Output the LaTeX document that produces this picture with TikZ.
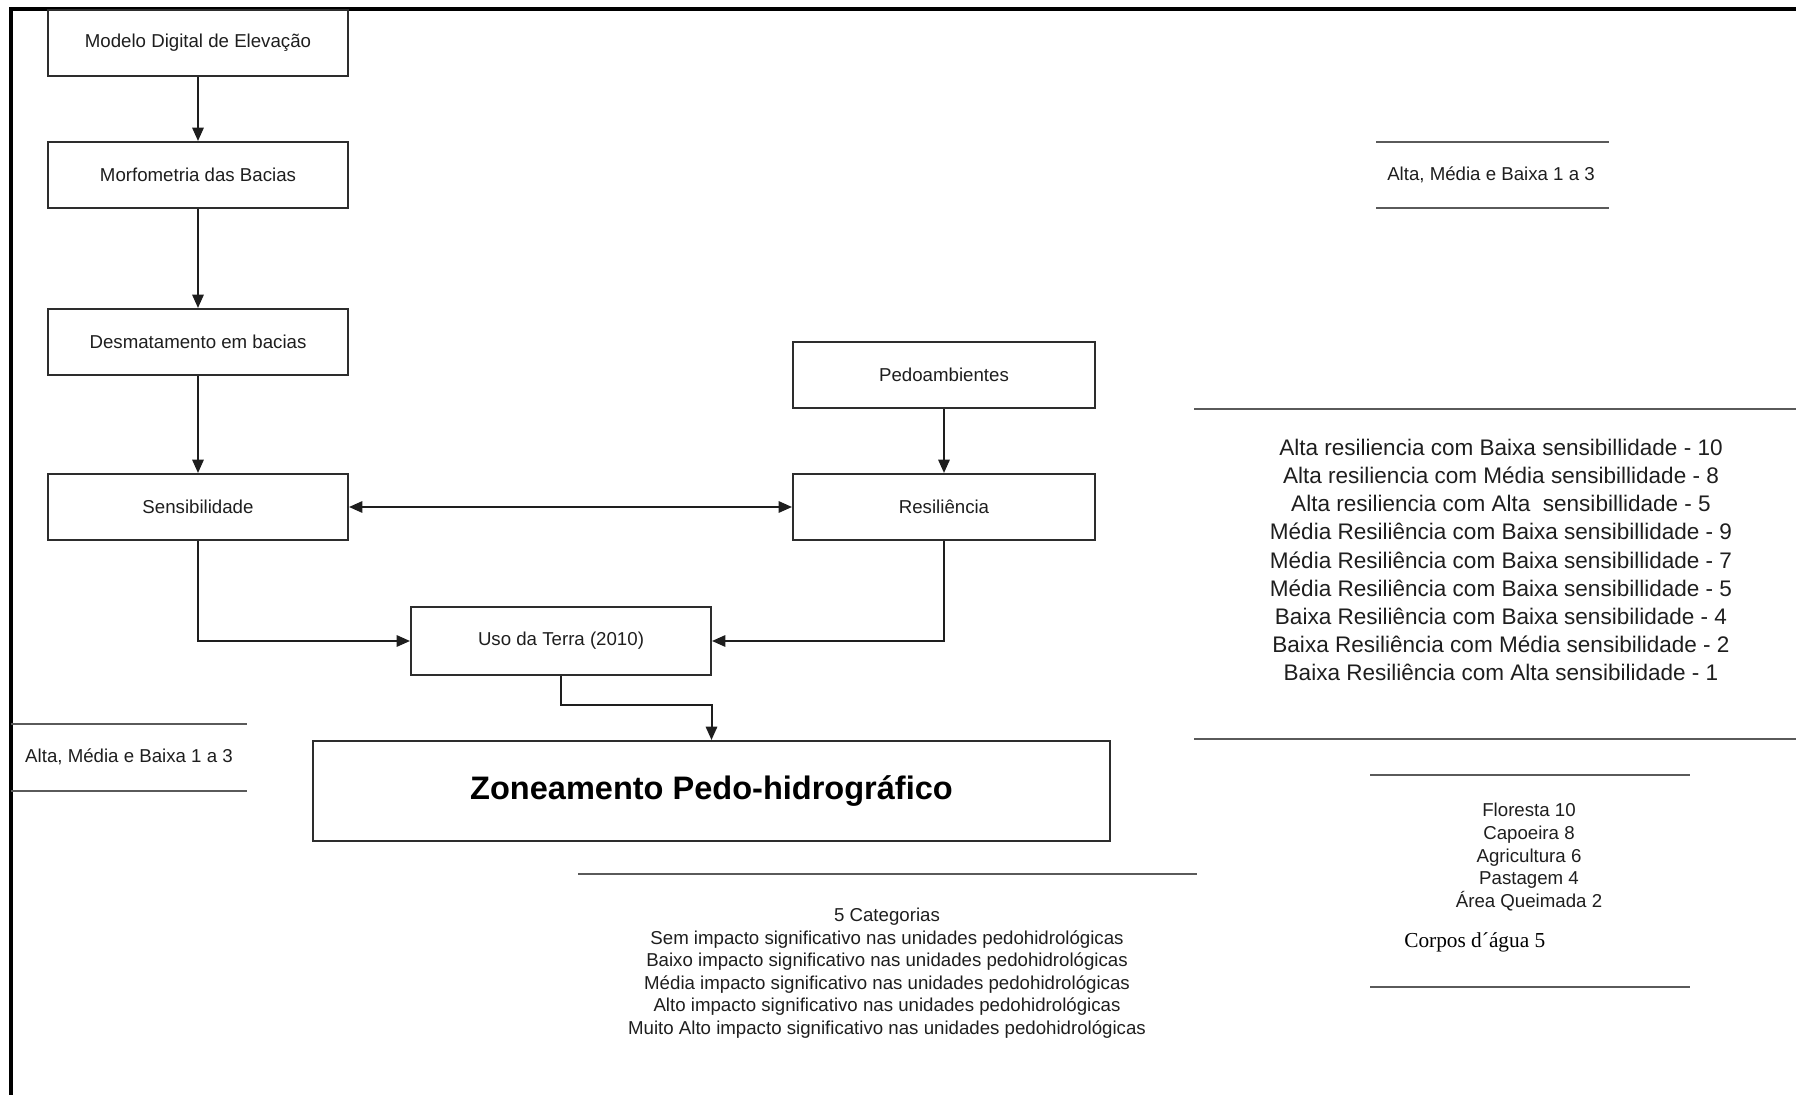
\documentclass[tikz,border=0pt]{standalone}
\usepackage{fontspec}
\setmainfont{Liberation Sans}
\newfontfamily\timesfont{Liberation Serif}
\usetikzlibrary{arrows.meta}

\begin{document}
\begin{tikzpicture}[x=0.75pt,y=0.75pt,yscale=-1,xscale=1,
  >={Triangle[length=10pt,width=8.5pt]},
  box/.style={draw={rgb, 255:red, 45; green, 45; blue, 45}, line width=1.5pt, minimum width=225pt, minimum height=49.5pt, inner sep=0.75pt, text={rgb, 255:red, 30; green, 30; blue, 30}, font=\fontsize{14}{17}\selectfont},
  seta/.style={draw={rgb, 255:red, 30; green, 30; blue, 30}, line width=1.5pt},
  divisa/.style={draw={rgb, 255:red, 90; green, 90; blue, 90}, line width=2.2pt},
  legenda/.style={inner sep=0.75pt, align=center, text={rgb, 255:red, 30; green, 30; blue, 30}, font=\fontsize{14}{16.9}\selectfont}
  ]
      \useasboundingbox (0,0) rectangle (1796,1095);

      %Straight Lines: frame
      \draw [line width=2.6pt] (11,1095) -- (11,9) -- (1796,9) ;

      %Shape: Rectangle
      \node [box] (mde) at (198,43) {Modelo Digital de Elevação};
      %Shape: Rectangle
      \node [box] (morfo) at (198,175) {Morfometria das Bacias};
      %Shape: Rectangle
      \node [box] (desmat) at (198,342) {Desmatamento em bacias};
      %Shape: Rectangle
      \node [box] (sens) at (198,507) {Sensibilidade};
      %Shape: Rectangle
      \node [box, minimum width=226.5pt] (pedo) at (944,375) {Pedoambientes};
      %Shape: Rectangle
      \node [box, minimum width=226.5pt] (resil) at (944,507) {Resiliência};
      %Shape: Rectangle
      \node [box, minimum height=51pt] (uso) at (561,641) {Uso da Terra (2010)};
      %Shape: Rectangle
      \node [box, minimum width=598pt, minimum height=75pt, font=\bfseries\fontsize{24.4}{29}\selectfont, text=black] (zon) at (711.5,791) {Zoneamento Pedo-hidrográfico};

      %Straight Lines: arrows
      \draw [seta, ->] (mde) -- (morfo) ;
      \draw [seta, ->] (morfo) -- (desmat) ;
      \draw [seta, ->] (desmat) -- (sens) ;
      \draw [seta, ->] (pedo) -- (resil) ;
      \draw [seta, <->] (sens) -- (resil) ;
      \draw [seta, ->] (sens.south) |- (uso.west) ;
      \draw [seta, ->] (resil.south) |- (uso.east) ;
      \draw [seta, ->] (uso.south) -- ++(0,29) -| (zon.north) ;

      %Straight Lines: separators
      \draw [divisa] (1376,142) -- (1609,142) ;
      \draw [divisa] (1376,208) -- (1609,208) ;
      \draw [divisa] (11,724) -- (247,724) ;
      \draw [divisa] (11,791) -- (247,791) ;
      \draw [divisa] (1194,409) -- (1796,409) ;
      \draw [divisa] (1194,739) -- (1796,739) ;
      \draw [divisa] (1370,775) -- (1690,775) ;
      \draw [divisa] (1370,987) -- (1690,987) ;
      \draw [divisa] (578,874) -- (1197,874) ;

      % Text Node
      \node [legenda] (escalaSens) at (1491,175) {Alta, Média e Baixa 1 a 3};
      % Text Node
      \node [legenda] (escalaRes) at (129,757) {Alta, Média e Baixa 1 a 3};
      % Text Node
      \node [legenda, font=\fontsize{16.9}{21.15}\selectfont] (classesRes) at (1501,560) {Alta resiliencia com Baixa sensibillidade - 10\\ Alta resiliencia com Média sensibillidade - 8\\ Alta resiliencia com Alta~ sensibillidade - 5\\ Média Resiliência com Baixa sensibillidade - 9\\ Média Resiliência com Baixa sensibillidade - 7\\ Média Resiliência com Baixa sensibillidade - 5\\ Baixa Resiliência com Baixa sensibilidade - 4\\ Baixa Resiliência com Média sensibilidade - 2\\ Baixa Resiliência com Alta sensibilidade - 1};
      % Text Node
      \node [legenda] (classesUso) at (1529,857) {Floresta 10\\ Capoeira 8\\ Agricultura 6\\ Pastagem 4\\ Área Queimada 2};
      % Text Node
      \node [anchor=west, inner sep=0.75pt, font=\timesfont\fontsize{16}{19}\selectfont] (corpos) at (1403,942) {Corpos d´água 5};
      % Text Node
      \node [legenda] (categorias) at (887,973) {5 Categorias\\ Sem impacto significativo nas unidades pedohidrológicas\\ Baixo impacto significativo nas unidades pedohidrológicas\\ Média impacto significativo nas unidades pedohidrológicas\\ Alto impacto significativo nas unidades pedohidrológicas\\ Muito Alto impacto significativo nas unidades pedohidrológicas};

\end{tikzpicture}
\end{document}
